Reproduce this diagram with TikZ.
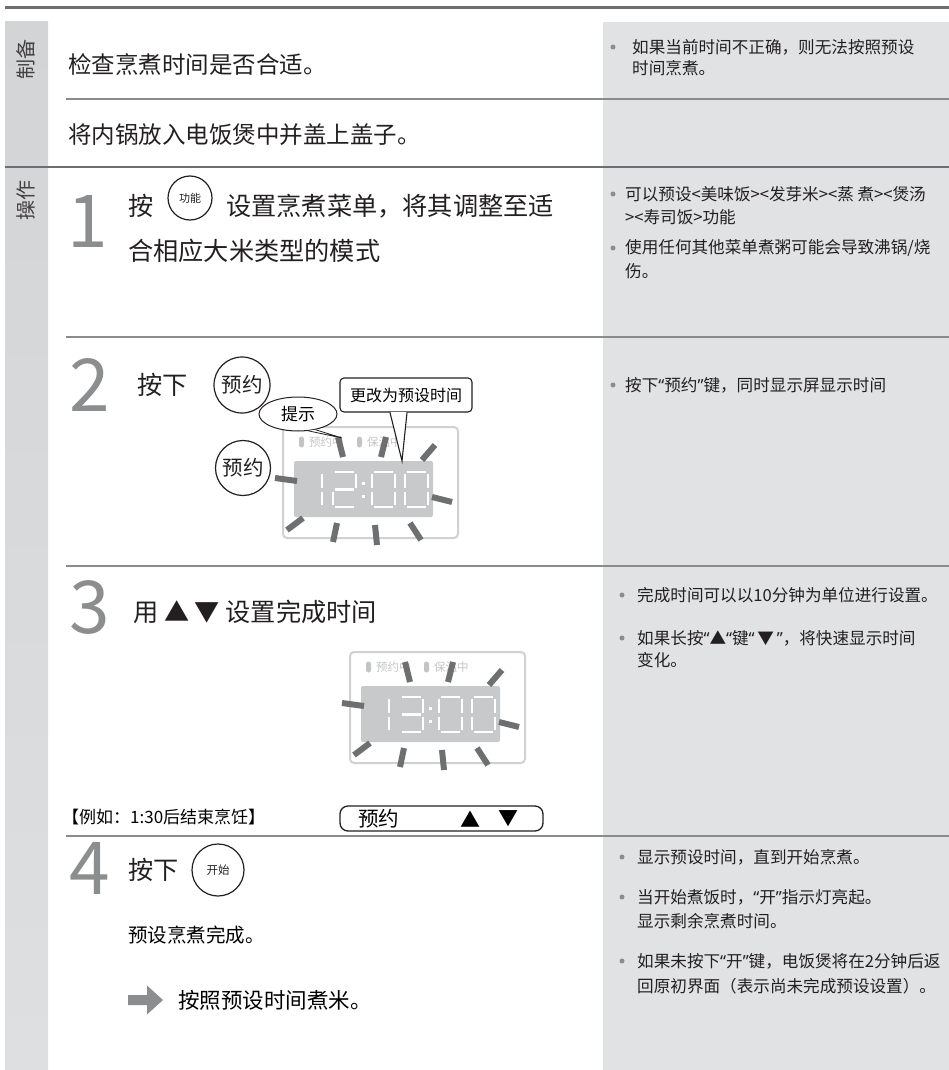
\documentclass[tikz,border=0pt]{standalone}
\usepackage{fontspec}
\setmainfont{Noto Sans CJK SC}
\newfontfamily\quotefont{Noto Sans}
\usetikzlibrary{shapes.geometric}

\definecolor{bandgray}{HTML}{D3D4D6}
\definecolor{bandlight}{HTML}{DEDFE1}
\definecolor{notegray}{HTML}{E1E2E4}
\definecolor{linegray}{HTML}{8A8B8D}
\definecolor{darkline}{HTML}{6D6E71}
\definecolor{numgray}{HTML}{8C8D8F}
\definecolor{lcdgray}{HTML}{C8C9CB}
\definecolor{framegray}{HTML}{D0D1D3}
\definecolor{lampgray}{HTML}{C3C4C6}
\definecolor{raygray}{HTML}{6E6F71}
\definecolor{inkblack}{HTML}{231F20}

% 窄引号
\newcommand\qo{{\quotefont “}}
\newcommand\qc{{\quotefont ”}}

\tikzset{
  sidelabel/.style={rotate=90, font=\fontsize{20}{20}\selectfont, text=inkblack!85, inner sep=0pt},
  rowtext/.style={anchor=west, font=\fontsize{23.5}{28}\selectfont, text=inkblack, inner sep=0pt},
  steptext/.style={anchor=west, font=\fontsize{25.2}{30}\selectfont, text=inkblack, inner sep=0pt},
  stepnum/.style={font=\fontsize{73}{73}\selectfont, text=numgray, inner sep=0pt},
  note/.style={anchor=west, font=\fontsize{16.6}{20}\selectfont, text=inkblack, inner sep=0pt},
  dot/.style={circle, fill=numgray, inner sep=0pt, minimum size=5pt},
  keybtn/.style={circle, draw=inkblack, line width=1.2pt, fill=white, inner sep=0pt, text=inkblack},
  lcdseg/.style={white, line width=2.6pt},
  ray/.style={raygray, line width=6pt},
}

% 七段数码管的一位数字
\newcommand\sevenseg[3]{%
  \foreach \s in {#3}{
    \if a\s \draw[lcdseg] (#1+2,#2) -- (#1+21,#2);\fi
    \if b\s \draw[lcdseg] (#1+23,#2+2) -- (#1+23,#2+15.5);\fi
    \if c\s \draw[lcdseg] (#1+23,#2+19.5) -- (#1+23,#2+33);\fi
    \if d\s \draw[lcdseg] (#1+2,#2+35) -- (#1+21,#2+35);\fi
    \if e\s \draw[lcdseg] (#1,#2+19.5) -- (#1,#2+33);\fi
    \if f\s \draw[lcdseg] (#1,#2+2) -- (#1,#2+15.5);\fi
    \if g\s \draw[lcdseg] (#1+2,#2+17.5) -- (#1+21,#2+17.5);\fi
  }}

% 显示屏：左上角坐标，第二位数字，名字前缀
\newcommand\lcdpanel[4]{%
  \begin{scope}[shift={(#1,#2)}, name prefix=#4-]
    \draw[framegray, line width=2pt, rounded corners=4pt] (0,0) rectangle (175,111);
    \fill[lampgray, rounded corners=2.5pt] (16,9.5) rectangle (21,20.5);
    \node[anchor=west, inner sep=0pt, text=lampgray, font=\fontsize{11.5}{11.5}\selectfont] (lampa) at (26,15) {预约中};
    \fill[lampgray, rounded corners=2.5pt] (74,9.5) rectangle (79,20.5);
    \node[anchor=west, inner sep=0pt, text=lampgray, font=\fontsize{11.5}{11.5}\selectfont] (lampb) at (84,15) {保温中};
    \fill[lcdgray, rounded corners=2pt] (11,34) rectangle (150,90);
    \sevenseg{16}{45}{b,c}
    \sevenseg{50}{45}{#3}
    \fill[white] (78.5,55) rectangle (81.5,58);
    \fill[white] (78.5,68) rectangle (81.5,71);
    \sevenseg{89}{45}{a,b,c,d,e,f}
    \sevenseg{122}{45}{a,b,c,d,e,f}
    % 闪烁的光线
    \foreach \xa/\ya/\xb/\yb in {-8/51/14/54, 55/10/60/30, 103/10/98/30, 152/18/139/33,
      149/70/169/75, 20/91/4/103, 54/96/50/115, 92/98/94/118, 127/96/138/113}
      \draw[ray] (\xa,\ya) -- (\xb,\yb);
  \end{scope}}

\begin{document}
\begin{tikzpicture}[x=1pt,y=-1pt]
\useasboundingbox (0,0) rectangle (949,1070);

%左边的灰色竖条和右边的说明栏
\shade[top color=bandgray, bottom color=bandlight] (5,22) rectangle (48,1070);
\fill[notegray] (603,22) rectangle (949,1070);

%分隔线
\draw[darkline, line width=3pt] (5,8) -- (949,8);
\draw[darkline, line width=2.5pt] (5,167) -- (949,167);
\foreach \y in {99,337,566,836}
  \draw[linegray, line width=1.2pt] (66,\y) -- (949,\y);

\node[sidelabel] (prep) at (26,60) {制备};
\node[sidelabel] (oper) at (26,200) {操作};

%准备部分
\node[rowtext] (check) at (68,65) {检查烹煮时间是否合适。};
\node[rowtext] (lid) at (68,135) {将内锅放入电饭煲中并盖上盖子。};
\node[dot] (d0) at (613,47) {};
\node[note] (n0a) at (632,47) {如果当前时间不正确，则无法按照预设};
\node[note] (n0b) at (632,68) {时间烹煮。};

%第1步
\node[stepnum] (s1) at (88,221) {1};
\node[steptext] (s1a) at (128,206) {按};
\node[keybtn, minimum size=44pt, font=\fontsize{11}{11}\selectfont] (menu) at (190,198) {功能};
\node[steptext] (s1b) at (226,206) {设置烹煮菜单，将其调整至适};
\node[steptext] (s1c) at (128,251) {合相应大米类型的模式};
\node[dot] (d1) at (613,194) {};
\node[note] (n1a) at (625,194) {可以预设<美味饭><发芽米><蒸 煮><煲汤};
\node[note] (n1b) at (625,217) {><寿司饭>功能};
\node[dot] (d2) at (613,248) {};
\node[note] (n1c) at (625,248) {使用任何其他菜单煮粥可能会导致沸锅/烧};
\node[note] (n1d) at (625,271) {伤。};

%第2步
\node[stepnum] (s2) at (90,385) {2};
\node[steptext] (s2a) at (137,385) {按下};
\node[keybtn, minimum size=56pt, font=\fontsize{20.5}{20.5}\selectfont] (resv1) at (242,385) {预约};
\node[keybtn, minimum size=55pt, font=\fontsize{20.5}{20.5}\selectfont] (resv2) at (243,468) {预约};
\lcdpanel{283}{427}{a,b,g,e,d}{p1}
%提示气泡
\node[ellipse, draw=inkblack, line width=1pt, fill=white, minimum width=78pt, minimum height=34pt,
  inner sep=0pt, font=\fontsize{17}{17}\selectfont] (hint) at (298,414) {提示};
\coordinate (hinttip) at (342,438);
\filldraw[fill=white, draw=inkblack, line width=0.8pt] (hint.-58) -- (hinttip) -- (hint.-42);
%更改时间的框
\node[draw=inkblack, line width=1.1pt, fill=white, rounded corners=4pt, minimum width=132pt,
  minimum height=34pt, inner sep=0pt, font=\fontsize{16}{16}\selectfont] (change) at (406,395) {更改为预设时间};
\coordinate (changetip) at (402,461);
\filldraw[fill=white, draw=inkblack, line width=1.1pt] ([xshift=-16pt]change.south) -- (changetip) -- ([xshift=1pt]change.south);
\draw[white, line width=1.6pt] ([xshift=-15pt]change.south) -- ([xshift=0pt]change.south);
\node[dot] (d3) at (613,385) {};
\node[note] (n2a) at (625,385) {按下\qo 预约\qc 键，同时显示屏显示时间};

%第3步
\node[stepnum] (s3) at (90,607) {3};
\node[steptext] (s3a) at (133,612) {用 ▲ ▼ 设置完成时间};
\lcdpanel{350}{652}{a,b,g,c,d}{p2}
\draw[inkblack, line width=1.3pt, rounded corners=8pt] (340,806) rectangle (543,831);
\node[anchor=west, inner sep=0pt, font=\fontsize{20.5}{20.5}\selectfont] (keyresv) at (358,819) {预约};
\node[inner sep=0pt, font=\fontsize{20}{20}\selectfont] (keyup) at (470,819) {▲};
\node[inner sep=0pt, font=\fontsize{20}{20}\selectfont] (keydown) at (508,819) {▼};
\node[anchor=west, inner sep=0pt, font=\fontsize{17}{17}\selectfont] (eg) at (62,817) {【例如：1:30后结束烹饪】};
\node[dot] (d4) at (622,595) {};
\node[note] (n3a) at (637,595) {完成时间可以以10分钟为单位进行设置。};
\node[dot] (d5) at (622,638) {};
\node[note] (n3b) at (637,638) {如果长按\qo▲\qo 键\qo\,▼\,\qc，将快速显示时间};
\node[note] (n3c) at (637,660) {变化。};

%第4步
\node[stepnum] (s4) at (90,868) {4};
\node[steptext] (s4a) at (128,870) {按下};
\node[keybtn, minimum size=52pt, font=\fontsize{11.5}{11.5}\selectfont] (start) at (218,870) {开始};
\node[anchor=west, inner sep=0pt, font=\fontsize{19.5}{19.5}\selectfont] (done) at (128,935) {预设烹煮完成。};
%灰色箭头
\fill[numgray] (128,995) -- (147,995) -- (147,985.5) -- (163,1000) -- (147,1014.5) -- (147,1005) -- (128,1005) -- cycle;
\node[anchor=west, inner sep=0pt, font=\fontsize{21.5}{21.5}\selectfont] (cook) at (178,1000) {按照预设时间煮米。};
\node[dot] (d6) at (622,857) {};
\node[note] (n4a) at (637,857) {显示预设时间，直到开始烹煮。};
\node[dot] (d7) at (622,897) {};
\node[note] (n4b) at (637,897) {当开始煮饭时，\qo 开\qc 指示灯亮起。};
\node[note] (n4c) at (637,921) {显示剩余烹煮时间。};
\node[dot] (d8) at (622,961) {};
\node[note] (n4d) at (637,961) {如果未按下\qo 开\qc 键，电饭煲将在2分钟后返};
\node[note] (n4e) at (637,986) {回原初界面（表示尚未完成预设设置）。};

\end{tikzpicture}
\end{document}
